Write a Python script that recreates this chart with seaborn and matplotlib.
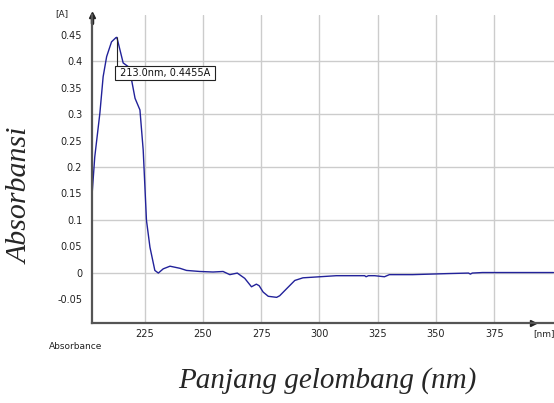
import matplotlib
matplotlib.use("Agg")
import matplotlib.pyplot as plt
import matplotlib.ticker as mticker
import numpy as np
import pandas as pd
import seaborn as sns

# spectrum (nm, absorbance)
wavelength = [202.3, 203.5, 205.7, 207.1, 208.6, 210.7, 212.6, 213.0, 215.7, 217.9,
              219.3, 220.8, 222.9, 224.3, 225.3, 225.7, 227.2, 229.3, 230.8, 232.9,
              235.8, 240.1, 242.9, 248.6, 254.3, 258.6, 261.5, 264.7, 267.9, 270.8,
              272.9, 274.1, 275.8, 278.0, 281.6, 282.9, 285.8, 289.4, 292.9, 300.1,
              307.2, 319.4, 320.0, 321.0, 323.7, 327.9, 330.0, 340.0, 355.0, 364.0,
              364.8, 365.6, 370.0, 385.0, 400.5]
absorbance = [0.145, 0.219, 0.302, 0.371, 0.409, 0.437, 0.445, 0.4455, 0.397, 0.390,
              0.365, 0.330, 0.308, 0.232, 0.137, 0.099, 0.048, 0.004, -0.001, 0.007,
              0.012, 0.008, 0.004, 0.002, 0.001, 0.002, -0.004, -0.001, -0.011, -0.027,
              -0.022, -0.025, -0.037, -0.045, -0.047, -0.044, -0.031, -0.015, -0.010, -0.008,
              -0.006, -0.006, -0.008, -0.006, -0.006, -0.008, -0.004, -0.004, -0.002, -0.001,
              -0.003, -0.001, 0.0, 0.0, 0.0]
x_ticks = [225, 250, 275, 300, 325, 350, 375]
peak_label = "213.0nm, 0.4455A"
peak_nm, peak_abs = 213.0, 0.4455

df = pd.DataFrame({"nm": wavelength, "A": absorbance})

sns.set_style("white")
plt.rcParams['font.family'] = ['DejaVu Sans']

fig = plt.figure(figsize=(5.54, 4.03), dpi=100)
ax = fig.add_axes([0.166, 0.1985, 0.834, 0.7645])

sns.lineplot(data=df, x="nm", y="A", ax=ax, color="#22229a", linewidth=1.0)

ax.set_xlim(202.3, 400.7)
ax.set_ylim(-0.0956, 0.488)
ax.set_xticks(x_ticks)
ax.yaxis.set_major_locator(mticker.MultipleLocator(0.1))
ax.yaxis.set_minor_locator(mticker.MultipleLocator(0.05))
fmt = mticker.FuncFormatter(lambda v, p: "%g" % round(v, 2))
ax.yaxis.set_major_formatter(fmt)
ax.yaxis.set_minor_formatter(fmt)
ax.grid(True, which="major", color="#cccccc", linewidth=1.0)
ax.set_axisbelow(True)

for s in ["top", "right"]:
    ax.spines[s].set_visible(False)
for s in ["left", "bottom"]:
    ax.spines[s].set_color("#555555")
    ax.spines[s].set_linewidth(1.6)

ax.tick_params(axis="y", which="both", length=3, width=0.8, color="#555555",
               labelsize=7, pad=4, labelcolor="#222222")
ax.tick_params(axis="x", length=0, labelsize=7, pad=4, labelcolor="#222222")
ax.set_xlabel("")
ax.set_ylabel("")

# axis arrows
ax.plot([0], [1.0], marker="^", color="#222222", markersize=5, transform=ax.transAxes, clip_on=False)
ax.plot([0.0, 0.0], [0.975, 1.0], color="#222222", linewidth=2.5, transform=ax.transAxes, clip_on=False)
ax.plot([0.955], [0.0], marker=">", color="#222222", markersize=4, transform=ax.transAxes, clip_on=False)

# peak marker: leader line straight down, box hangs from it
box_top = 0.388
ax.vlines(peak_nm, box_top, peak_abs, color="#222222", linewidth=0.8, zorder=4)
ax.text(peak_nm, box_top, " " + peak_label + " ", fontsize=7, ha="left", va="top",
        color="#111111", zorder=5,
        bbox=dict(boxstyle="square,pad=0.2", fc="white", ec="#222222", lw=0.8))

fig.text(0.099, 0.967, "[A]", fontsize=6.5, ha="left", va="center", color="#222222")
fig.text(0.088, 0.139, "Absorbance", fontsize=6.5, ha="left", va="center", color="#222222")
fig.text(0.962, 0.173, "[nm]", fontsize=6.5, ha="left", va="center", color="#222222")

fig.text(0.038, 0.513, "Absorbansi", fontsize=21.5, rotation=90, ha="center", va="center",
         family="Liberation Serif", style="italic")
fig.text(0.59, 0.055, "Panjang gelombang (nm)", fontsize=21, ha="center", va="center",
         family="Liberation Serif", style="italic")

fig.savefig("out.png", dpi=100)
